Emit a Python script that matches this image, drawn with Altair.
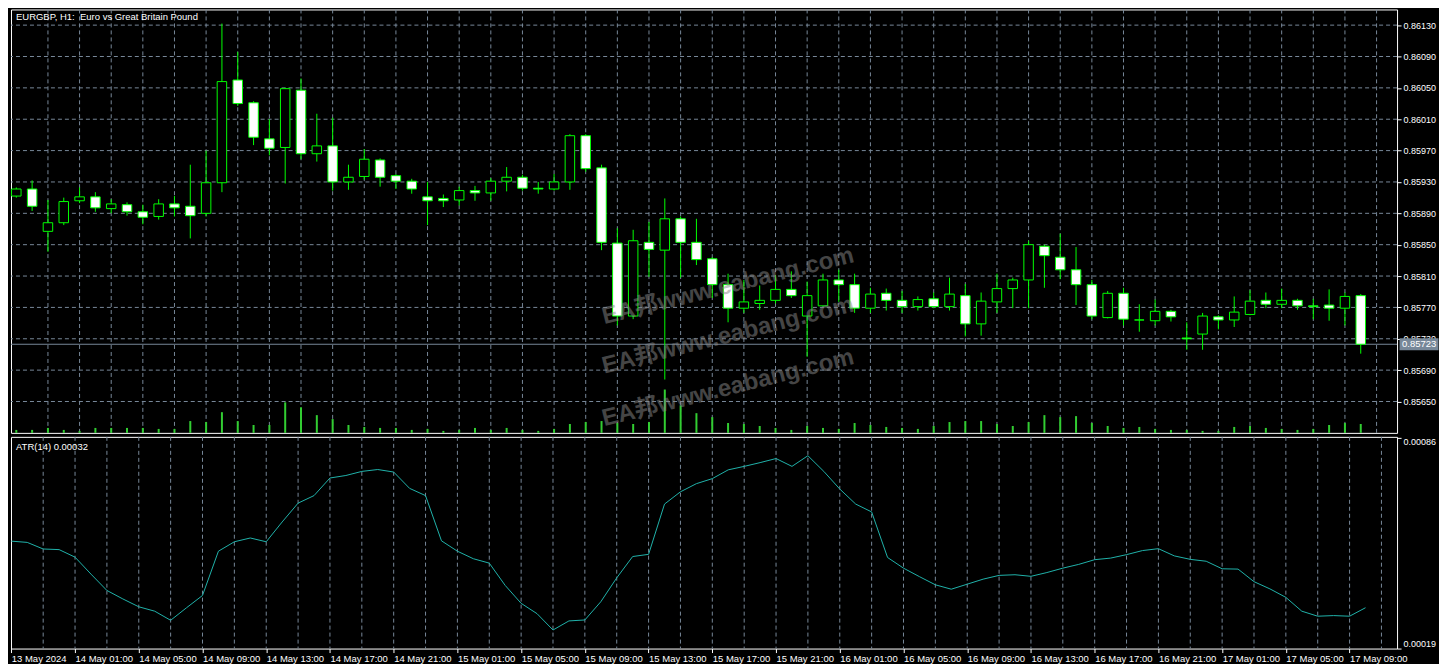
import altair as alt
import pandas as pd

# ---------------- data ----------------
opens = [0.85912, 0.85921, 0.85867, 0.85878, 0.85906, 0.85911, 0.85896, 0.85901, 0.85892, 0.85886,
         0.85902, 0.85899, 0.85890, 0.85929, 0.86060, 0.86031, 0.85985, 0.85974, 0.86047, 0.85966,
         0.85976, 0.85930, 0.85937, 0.85958, 0.85938, 0.85931, 0.85911, 0.85909, 0.85907, 0.85919,
         0.85916, 0.85931, 0.85936, 0.85922, 0.85921, 0.85930, 0.85989, 0.85948, 0.85852, 0.85759,
         0.85853, 0.85843, 0.85883, 0.85853, 0.85832, 0.85799, 0.85769, 0.85775, 0.85779, 0.85793,
         0.85759, 0.85772, 0.85805, 0.85799, 0.85769, 0.85788, 0.85779, 0.85771, 0.85781, 0.85771,
         0.85785, 0.85749, 0.85777, 0.85794, 0.85805, 0.85848, 0.85834, 0.85818, 0.85799, 0.85757,
         0.85788, 0.85754, 0.85753, 0.85765, 0.85731, 0.85736, 0.85758, 0.85754, 0.85761, 0.85779,
         0.85774, 0.85779, 0.85772, 0.85773, 0.85769, 0.85785]
highs = [0.85923, 0.85932, 0.85907, 0.85910, 0.85923, 0.85917, 0.85908, 0.85904, 0.85901, 0.85908,
         0.85912, 0.85952, 0.85970, 0.86132, 0.86096, 0.86033, 0.86010, 0.86050, 0.86062, 0.86017,
         0.86012, 0.85952, 0.85972, 0.85960, 0.85940, 0.85934, 0.85930, 0.85914, 0.85924, 0.85925,
         0.85935, 0.85949, 0.85939, 0.85930, 0.85940, 0.85991, 0.85991, 0.85952, 0.85871, 0.85869,
         0.85879, 0.85909, 0.85886, 0.85883, 0.85834, 0.85813, 0.85805, 0.85798, 0.85811, 0.85816,
         0.85803, 0.85813, 0.85818, 0.85813, 0.85795, 0.85794, 0.85791, 0.85784, 0.85789, 0.85808,
         0.85800, 0.85789, 0.85813, 0.85808, 0.85855, 0.85850, 0.85864, 0.85847, 0.85805, 0.85791,
         0.85795, 0.85774, 0.85780, 0.85767, 0.85751, 0.85763, 0.85760, 0.85784, 0.85792, 0.85789,
         0.85794, 0.85781, 0.85781, 0.85793, 0.85789, 0.85787]
lows = [0.85910, 0.85893, 0.85841, 0.85875, 0.85903, 0.85892, 0.85890, 0.85887, 0.85876, 0.85882,
        0.85886, 0.85858, 0.85886, 0.85917, 0.86027, 0.85977, 0.85964, 0.85928, 0.85959, 0.85956,
        0.85919, 0.85920, 0.85933, 0.85924, 0.85921, 0.85915, 0.85875, 0.85898, 0.85900, 0.85906,
        0.85906, 0.85918, 0.85919, 0.85915, 0.85919, 0.85920, 0.85943, 0.85843, 0.85747, 0.85755,
        0.85809, 0.85678, 0.85808, 0.85824, 0.85782, 0.85751, 0.85763, 0.85767, 0.85775, 0.85782,
        0.85707, 0.85771, 0.85777, 0.85763, 0.85763, 0.85766, 0.85763, 0.85766, 0.85769, 0.85766,
        0.85733, 0.85734, 0.85763, 0.85769, 0.85769, 0.85795, 0.85806, 0.85773, 0.85755, 0.85756,
        0.85747, 0.85739, 0.85747, 0.85752, 0.85716, 0.85716, 0.85742, 0.85745, 0.85760, 0.85769,
        0.85769, 0.85767, 0.85755, 0.85753, 0.85747, 0.85711]
closes = [0.85921, 0.85899, 0.85878, 0.85905, 0.85911, 0.85897, 0.85902, 0.85892, 0.85885, 0.85902,
          0.85897, 0.85887, 0.85929, 0.86058, 0.86030, 0.85987, 0.85973, 0.86049, 0.85966, 0.85976,
          0.85930, 0.85936, 0.85959, 0.85936, 0.85931, 0.85921, 0.85906, 0.85906, 0.85919, 0.85916,
          0.85931, 0.85936, 0.85922, 0.85921, 0.85930, 0.85989, 0.85947, 0.85853, 0.85759, 0.85855,
          0.85844, 0.85883, 0.85853, 0.85831, 0.85799, 0.85769, 0.85777, 0.85779, 0.85793, 0.85785,
          0.85785, 0.85805, 0.85799, 0.85769, 0.85787, 0.85779, 0.85771, 0.85780, 0.85771, 0.85787,
          0.85749, 0.85778, 0.85794, 0.85805, 0.85850, 0.85836, 0.85818, 0.85799, 0.85759, 0.85788,
          0.85755, 0.85754, 0.85765, 0.85758, 0.85730, 0.85759, 0.85754, 0.85764, 0.85778, 0.85774,
          0.85779, 0.85772, 0.85771, 0.85769, 0.85784, 0.85723]
volumes = [300, 300, 500, 300, 200, 500, 500, 500, 500, 400, 400, 1200, 1100, 2100, 1200, 800, 800,
           3100, 2600, 1800, 1400, 800, 600, 500, 500, 300, 400, 200, 300, 500, 300, 500, 300, 200,
           400, 900, 1100, 1200, 1000, 900, 1100, 4400, 2800, 2000, 1600, 1000, 900, 700, 500, 300,
           700, 500, 400, 1000, 800, 600, 500, 400, 700, 1100, 1200, 1200, 900, 700, 1100, 1800,
           1600, 1700, 1000, 700, 500, 600, 400, 300, 300, 200, 200, 600, 700, 500, 400, 300, 400,
           800, 1000, 900]
atr = [0.000531, 0.000527, 0.000506, 0.000504, 0.000480, 0.000426, 0.000374, 0.000347, 0.000322, 0.000308,
       0.000279, 0.000319, 0.000358, 0.000499, 0.000529, 0.000541, 0.000529, 0.000592, 0.000652, 0.000676,
       0.000732, 0.000740, 0.000753, 0.000759, 0.000751, 0.000699, 0.000676, 0.000532, 0.000499, 0.000475,
       0.000461, 0.000390, 0.000333, 0.000300, 0.000248, 0.000277, 0.000280, 0.000338, 0.000414, 0.000482,
       0.000489, 0.000649, 0.000688, 0.000714, 0.000730, 0.000758, 0.000769, 0.000781, 0.000794, 0.000769,
       0.000803, 0.000753, 0.000697, 0.000649, 0.000624, 0.000479, 0.000445, 0.000418, 0.000392, 0.000378,
       0.000394, 0.000410, 0.000422, 0.000424, 0.000419, 0.000431, 0.000445, 0.000457, 0.000472, 0.000477,
       0.000488, 0.000501, 0.000507, 0.000484, 0.000473, 0.000467, 0.000443, 0.000442, 0.000402, 0.000379,
       0.000352, 0.000308, 0.000292, 0.000294, 0.000292, 0.000319]
x_labels = ["13 May 2024", "14 May 01:00", "14 May 05:00", "14 May 09:00", "14 May 13:00",
            "14 May 17:00", "14 May 21:00", "15 May 01:00", "15 May 05:00", "15 May 09:00",
            "15 May 13:00", "15 May 17:00", "15 May 21:00", "16 May 01:00", "16 May 05:00",
            "16 May 09:00", "16 May 13:00", "16 May 17:00", "16 May 21:00", "17 May 01:00",
            "17 May 05:00", "17 May 09:00"]
price_ticks = [0.85650, 0.85690, 0.85730, 0.85770, 0.85810, 0.85850, 0.85890, 0.85930,
               0.85970, 0.86010, 0.86050, 0.86090, 0.86130]
atr_ticks = [0.00086, 0.00019]
last_price = 0.85723
title_text = "EURGBP, H1:\u00a0 Euro vs Great Britain Pound"
atr_text = "ATR(14) 0.00032"
watermark = "EA邦www.eabang.com"
wm_k = [45, 45, 45]
wm_p = [0.85797, 0.85734, 0.85667]

# ---------------- tables ----------------
n = len(opens)
df = pd.DataFrame({
    "k": list(range(n)),
    "open": opens, "high": highs, "low": lows, "close": closes,
    "vol": volumes, "atr": atr,
})
df["dir"] = ["bull" if c > o else "bear" for o, c in zip(opens, closes)]
grid_df = pd.DataFrame({"k": list(range(2, n + 2, 2))})
hgrid_df = pd.DataFrame({"p": price_ticks})
last_df = pd.DataFrame({"p": [last_price]})
wm_df = pd.DataFrame({"k": wm_k, "p": wm_p, "t": [watermark] * len(wm_k)})

W, H1, H2 = 1388, 424, 212
FONT = "Liberation Sans"
GRID = "#778899"
GREEN = "#00ff00"

xscale = alt.Scale(domain=[-0.02, 86.98], nice=False, zero=False)
pscale = alt.Scale(domain=[0.85610, 0.86150], nice=False, zero=False)
xn = alt.X("k:Q", scale=xscale, axis=None)


def py(field):
    return alt.Y(field, type="quantitative", scale=pscale, axis=None)


vgrid = alt.Chart(grid_df).mark_rule(color=GRID, strokeDash=[4, 3], strokeWidth=1).encode(x=xn)

hgrid = alt.Chart(hgrid_df).mark_rule(color=GRID, strokeDash=[4, 3], strokeWidth=1).encode(
    y=alt.Y("p:Q", scale=pscale, axis=alt.Axis(
        orient="right", values=price_ticks, format=".5f", grid=False, domain=False,
        ticks=True, tickColor="white", tickSize=4, labelColor="white", labelFont=FONT,
        labelFontSize=9, labelPadding=2, title=None, labelOverlap=False))
)

vol = alt.Chart(df).mark_bar(size=2, color="#32CD32").encode(
    x=xn,
    y=alt.Y("vol:Q", scale=alt.Scale(domain=[0, 43000], nice=False, zero=True), axis=None),
)

ask = alt.Chart(last_df).mark_rule(color=GRID, strokeWidth=1).encode(y=py("p"))

wicks = alt.Chart(df).mark_rule(color=GREEN, strokeWidth=1).encode(
    x=xn, y=py("low"), y2="high:Q")

bodies = alt.Chart(df).mark_bar(size=9.5, stroke=GREEN, strokeWidth=1).encode(
    x=xn, y=py("open"), y2="close:Q",
    color=alt.Color("dir:N", scale=alt.Scale(domain=["bull", "bear"], range=["#000000", "#ffffff"]),
                    legend=None),
)

title = alt.Chart(pd.DataFrame({"t": [title_text]})).mark_text(
    align="left", baseline="middle", color="white", font=FONT, fontSize=9.5).encode(
    x=alt.value(5), y=alt.value(8), text="t:N")

wm = alt.Chart(wm_df).mark_text(
    angle=346, fontSize=24, fontWeight="bold", color="#8a8a8a", opacity=0.5,
    font="Liberation Sans, Noto Sans CJK SC").encode(x=xn, y=py("p"), text="t:N")

box = alt.Chart(last_df).mark_point(
    shape="M-1,-0.3077H1V0.3077H-1Z", size=1521, filled=True, color=GRID, opacity=1).encode(
    x=alt.value(W + 22), y=py("p"))
box_text = alt.Chart(last_df).mark_text(
    align="left", baseline="middle", color="white", font=FONT, fontSize=9.5).encode(
    x=alt.value(W + 5), y=py("p"), text=alt.Text("p:Q", format=".5f"))

top = alt.layer(vgrid, hgrid, vol, ask, wicks, bodies, wm, title, box, box_text).resolve_scale(
    y="independent").properties(width=W, height=H1)

label_expr = "[" + ",".join("'%s'" % s for s in x_labels) + "][round(datum.value/4)]"
label_k = [4 * i for i in range(len(x_labels))]

vgrid2 = alt.Chart(grid_df).mark_rule(color=GRID, strokeDash=[4, 3], strokeWidth=1).encode(
    x=alt.X("k:Q", scale=xscale, axis=alt.Axis(
        values=label_k, labelExpr=label_expr, grid=False, domain=False, ticks=True,
        tickColor="white", tickSize=4, labelColor="white", labelAlign="left",
        labelBaseline="top", labelPadding=1, labelFont=FONT, labelFontSize=9.5,
        labelOverlap=False, labelFlush=False, title=None)))

atr_line = alt.Chart(df).mark_line(color="#20B2AA", strokeWidth=1).encode(
    x=alt.X("k:Q", scale=xscale),
    y=alt.Y("atr:Q", scale=alt.Scale(domain=[0.000189, 0.000863], nice=False, zero=False),
            axis=alt.Axis(orient="right", values=atr_ticks, format=".5f", grid=False, domain=False,
                          ticks=True, tickColor="white", tickSize=4, labelColor="white",
                          labelFont=FONT, labelFontSize=9, labelPadding=2, title=None,
                          labelOverlap=False,
                          labelBaseline={"condition": {"test": "datum.value > 0.0005", "value": "top"},
                                         "value": "bottom"})),
)

atr_title = alt.Chart(pd.DataFrame({"t": [atr_text]})).mark_text(
    align="left", baseline="middle", color="white", font=FONT, fontSize=9.5).encode(
    x=alt.value(5), y=alt.value(10), text="t:N")

bottom = alt.layer(vgrid2, atr_line, atr_title).properties(width=W, height=H2)

chart = alt.vconcat(top, bottom, spacing=2).properties(
    background="#000000", padding=0
).configure_view(stroke="#ffffff", strokeWidth=1)

chart.save("out.html", embed_options={"renderer": "svg", "actions": False})
